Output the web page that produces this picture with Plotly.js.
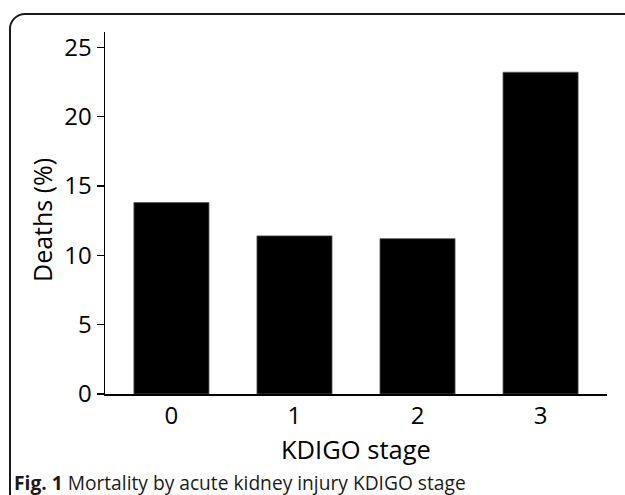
<!DOCTYPE html>
<html>
<head>
<meta charset="utf-8">
<script src="https://cdn.plot.ly/plotly-3.0.1.min.js"></script>
<style>
  html, body { margin:0; padding:0; background:#fff; }
  #wrap { position:relative; width:625px; height:495px; overflow:hidden; background:#fff; }
  #frame { position:absolute; left:9px; top:13px; width:660px; height:520px; border:2px solid #1a1a1a; border-radius:16px; box-sizing:border-box; }
  #chart { position:absolute; left:0; top:0; width:625px; height:495px; }
</style>
</head>
<body>
<div id="wrap">
  <div id="frame"></div>
  <div id="chart"></div>
</div>
<script>
const stages = ["0", "1", "2", "3"];
const deathsPct = [13.8, 11.4, 11.2, 23.2];
const yTicks = [0, 5, 10, 15, 20, 25];
const xTitle = "KDIGO stage";
const yTitle = "Deaths (%)";
const captionBold = "Fig. 1";
const captionText = "Mortality by acute kidney injury KDIGO stage";

const font = "Open Sans, Noto Sans, DejaVu Sans, sans-serif";

const trace = {
  type: "bar",
  x: stages.map(Number),
  y: deathsPct,
  width: 0.61,
  marker: { color: "#000", line: { color: "#555", width: 0.8 } },
  hoverinfo: "none"
};

const PL = 105, PT = 32, PW = 502, PH = 362;
const px = v => (v - PL) / PW;
const py = v => (PT + PH - v) / PH;

const layout = {
  width: 625, height: 495,
  margin: { l: PL, r: 625 - PL - PW, t: PT, b: 495 - PT - PH, pad: 0 },
  paper_bgcolor: "rgba(0,0,0,0)",
  plot_bgcolor: "rgba(0,0,0,0)",
  showlegend: false,
  font: { family: font, color: "#000" },
  xaxis: {
    range: [-0.54, 3.54],
    tickvals: stages.map(Number),
    ticktext: stages,
    showline: true, linecolor: "#000", linewidth: 1.5,
    ticks: "", showgrid: false, zeroline: false,
    tickfont: { size: 24, family: font, color: "#000" }
  },
  yaxis: {
    range: [0, 26.1],
    tickvals: yTicks,
    ticktext: yTicks.map(String),
    showline: true, linecolor: "#000", linewidth: 1.5,
    ticks: "outside", ticklen: 7, tickwidth: 1.5, tickcolor: "#000",
    showgrid: false, zeroline: false,
    tickfont: { size: 24, family: font, color: "#000" }
  },
  annotations: [
    {
      xref: "paper", yref: "paper",
      x: px(356), y: py(449), xanchor: "center", yanchor: "middle",
      showarrow: false, text: xTitle,
      font: { size: 25.5, family: font, color: "#000" }
    },
    {
      xref: "paper", yref: "paper",
      x: px(42), y: py(220), xanchor: "center", yanchor: "middle",
      textangle: -90, showarrow: false, text: yTitle,
      font: { size: 25, family: font, color: "#000" }
    },
    {
      xref: "paper", yref: "paper",
      x: px(12), y: py(482),
      xanchor: "left", yanchor: "middle",
      showarrow: false,
      text: "<b>" + captionBold + "</b> " + captionText,
      font: { size: 19.2, family: font, color: "#1a1a1a" }
    }
  ]
};

Plotly.newPlot("chart", [trace], layout, { staticPlot: true, displayModeBar: false });
</script>
</body>
</html>
